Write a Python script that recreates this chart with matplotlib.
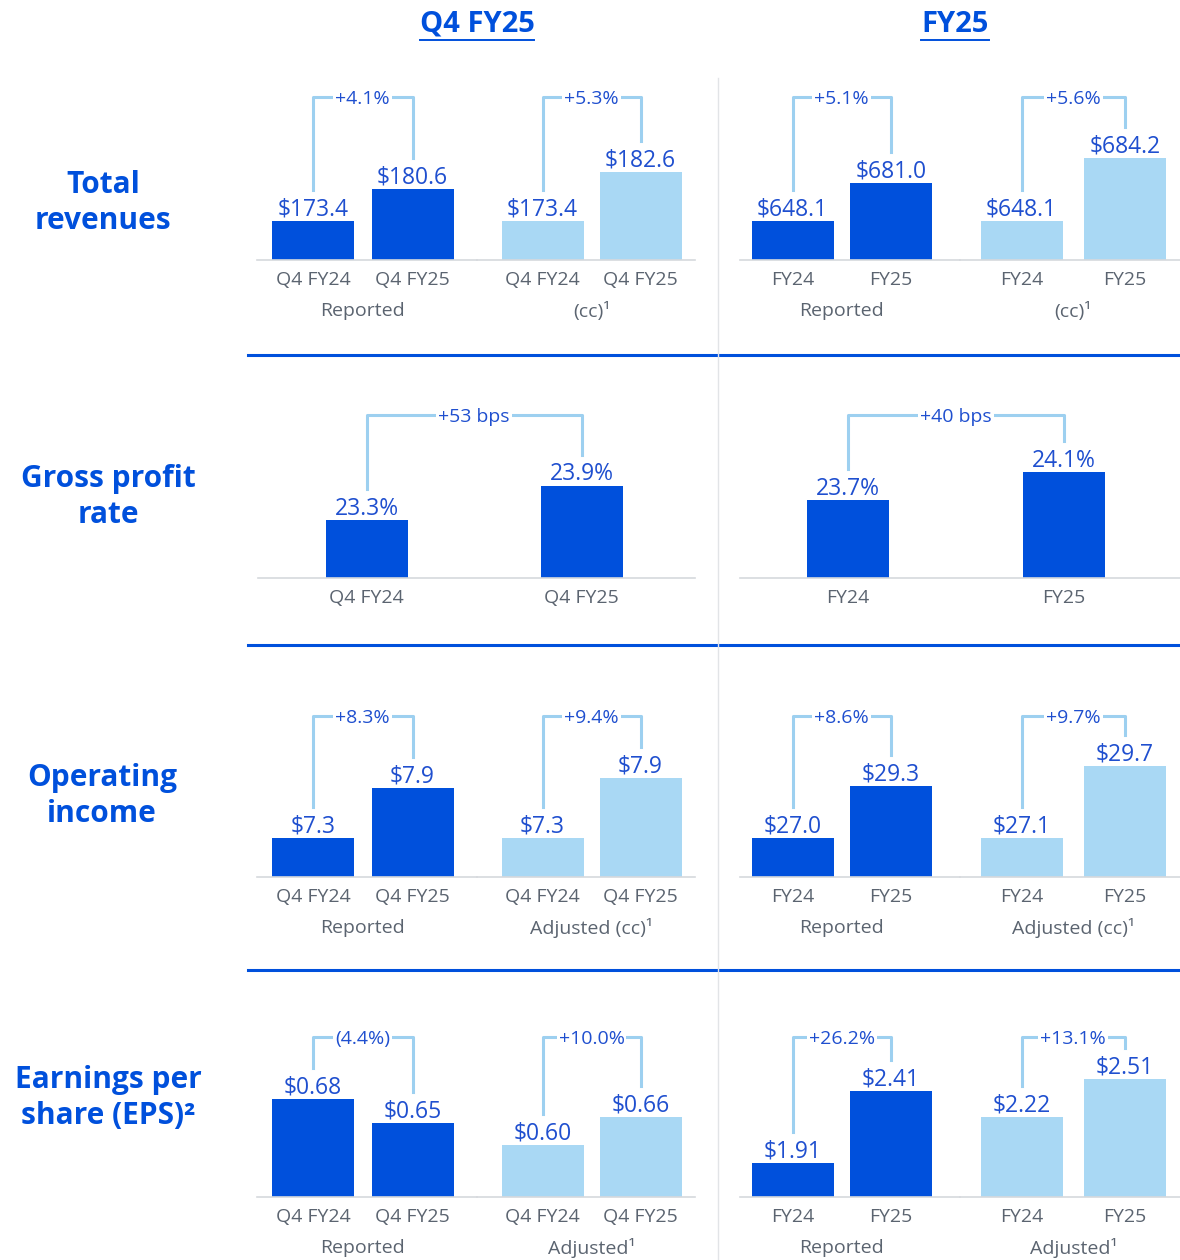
import matplotlib
matplotlib.use("Agg")
import matplotlib.pyplot as plt
import matplotlib.transforms as mtransforms
from matplotlib.lines import Line2D

plt.rcParams['font.family'] = ['Open Sans', 'DejaVu Sans']

# ---- data ----
q4_labels = ["Q4 FY24", "Q4 FY25"]
fy_labels = ["FY24", "FY25"]

rev_q4_reported = [173.4, 180.6]
rev_q4_cc = [173.4, 182.6]
rev_fy_reported = [648.1, 681.0]
rev_fy_cc = [648.1, 684.2]

gpr_q4 = [23.3, 23.9]
gpr_fy = [23.7, 24.1]

oi_q4_reported = [7.3, 7.9]
oi_q4_adj = [7.3, 7.9]
oi_fy_reported = [27.0, 29.3]
oi_fy_adj = [27.1, 29.7]

eps_q4_reported = [0.68, 0.65]
eps_q4_adj = [0.60, 0.66]
eps_fy_reported = [1.91, 2.41]
eps_fy_adj = [2.22, 2.51]

row_titles = ["Total\nrevenues", "Gross profit\nrate", "Operating\nincome", "Earnings per\nshare (EPS)²"]
col_titles = ["Q4 FY25", "FY25"]

# ---- style ----
W, H = 1180, 1260
DARK = "#0050dc"
LIGHT = "#a9d8f4"
BRACKET = "#9dd0f0"
TXT_BLUE = "#1f4fcf"
GRAY = "#5b6470"

fig = plt.figure(figsize=(W / 100, H / 100), dpi=100)


def px_rect(x0, x1, top, base):
    return [x0 / W, 1 - base / H, (x1 - x0) / W, (base - top) / H]


def group(x0, x1, c1, c2, top, base, labels, values, color, ylim, fmt, change, name=None):
    ax = fig.add_axes(px_rect(x0, x1, top, base))
    unit = c2 - c1
    ax.set_xlim((x0 - c1) / unit, (x1 - c1) / unit)
    ax.set_ylim(*ylim)
    ax.bar([0, 1], values, width=82 / unit, color=color, zorder=2)
    ax.patch.set_alpha(0)
    for s in ["top", "left", "right"]:
        ax.spines[s].set_visible(False)
    ax.spines["bottom"].set_color("#d6d9dd")
    ax.spines["bottom"].set_linewidth(1.2)
    ax.set_yticks([])
    ax.set_xticks([0, 1], labels)
    ax.tick_params(axis="x", length=0, pad=8, labelsize=14, labelcolor=GRAY)
    for i, v in enumerate(values):
        ax.annotate(fmt.format(v), (i, v), xytext=(0, 4), textcoords="offset points",
                    ha="center", va="baseline", fontsize=16.5, color=TXT_BLUE)
    # bracket
    blend = mtransforms.blended_transform_factory(ax.transData, ax.transAxes)
    hpx = base - top
    lo, hi = ylim
    b = [(v - lo) / (hi - lo) + 31 / hpx for v in values]
    ax.add_line(Line2D([0, 0, 1, 1], [b[0], 1, 1, b[1]], transform=blend,
                       color=BRACKET, lw=2.2, clip_on=False, zorder=1))
    ax.text(0.5, 1, change, transform=blend, ha="center", va="center_baseline",
            fontsize=14, color=TXT_BLUE, zorder=4,
            bbox=dict(boxstyle="square,pad=0.1", fc="white", ec="none"))
    if name:
        ax.annotate(name, xy=(0.5, 0), xycoords=blend, xytext=(0, -37),
                    textcoords="offset points", ha="center", va="center",
                    fontsize=14, color=GRAY)
    return ax


# row 1: total revenues
group(257, 477, 313, 412.5, 97, 260, q4_labels, rev_q4_reported, DARK, (164.6, 201.3), "${:.1f}", "+4.1%", "Reported")
group(477, 695, 542.5, 640.5, 97, 260, q4_labels, rev_q4_cc, LIGHT, (166.1, 196.7), "${:.1f}", "+5.3%", "(cc)¹")
group(740, 960, 792.5, 891, 97, 260, fy_labels, rev_fy_reported, DARK, (614.3, 755.4), "${:.1f}", "+5.1%", "Reported")
group(960, 1180, 1021.5, 1125, 97, 260, fy_labels, rev_fy_cc, LIGHT, (625.8, 719.2), "${:.1f}", "+5.6%", "(cc)¹")

# row 2: gross profit rate
group(258, 695, 366.5, 581.5, 415, 578, q4_labels, gpr_q4, DARK, (22.28, 25.15), "{:.1f}%", "+53 bps")
group(740, 1180, 848, 1064, 415, 578, fy_labels, gpr_fy, DARK, (22.59, 24.92), "{:.1f}%", "+40 bps")

# row 3: operating income
group(257, 477, 313, 412.5, 716, 877, q4_labels, oi_q4_reported, DARK, (6.83, 8.76), "${:.1f}", "+8.3%", "Reported")
group(477, 695, 542.5, 640.5, 716, 877, q4_labels, oi_q4_adj, LIGHT, (6.91, 8.52), "${:.1f}", "+9.4%", "Adjusted (cc)¹")
group(740, 960, 792.5, 891, 716, 877, fy_labels, oi_fy_reported, DARK, (25.27, 32.39), "${:.1f}", "+8.6%", "Reported")
group(960, 1180, 1021.5, 1125, 716, 877, fy_labels, oi_fy_adj, LIGHT, (25.69, 31.50), "${:.1f}", "+9.7%", "Adjusted (cc)¹")

# row 4: EPS
group(257, 477, 313, 412.5, 1037, 1197, q4_labels, eps_q4_reported, DARK, (0.5575, 0.7575), "${:.2f}", "(4.4%)", "Reported")
group(477, 695, 542.5, 640.5, 1037, 1197, q4_labels, eps_q4_adj, LIGHT, (0.489, 0.832), "${:.2f}", "+10.0%", "Adjusted¹")
group(740, 960, 792.5, 891, 1037, 1197, fy_labels, eps_fy_reported, DARK, (1.674, 2.785), "${:.2f}", "+26.2%", "Reported")
group(960, 1180, 1021.5, 1125, 1037, 1197, fy_labels, eps_fy_adj, LIGHT, (1.61, 2.831), "${:.2f}", "+13.1%", "Adjusted¹")

# row titles
for title, (x, y) in zip(row_titles, [(103, 203), (108, 497), (102, 796), (108, 1098)]):
    fig.text(x / W, 1 - y / H, title, ha="center", va="center", fontsize=21.5,
             fontweight="bold", color=DARK, linespacing=1.3)

# column titles with underline
heads = []
for title, x in zip(col_titles, [477, 955]):
    heads.append(fig.text(x / W, 1 - 24 / H, title, ha="center", va="center",
                          fontsize=21, fontweight="bold", color=DARK))
fig.canvas.draw()
for t in heads:
    bb = t.get_window_extent()
    fig.add_artist(Line2D([bb.x0 / W, bb.x1 / W], [1 - 40 / H] * 2, color=DARK, lw=1.4))

# separators
for y in [355, 645, 970]:
    fig.add_artist(Line2D([248 / W, 1], [1 - y / H] * 2, color=DARK, lw=2.2))
fig.add_artist(Line2D([718 / W] * 2, [1 - 78 / H, 0], color="#e2e4e7", lw=1))

fig.savefig("out.png", dpi=100)
